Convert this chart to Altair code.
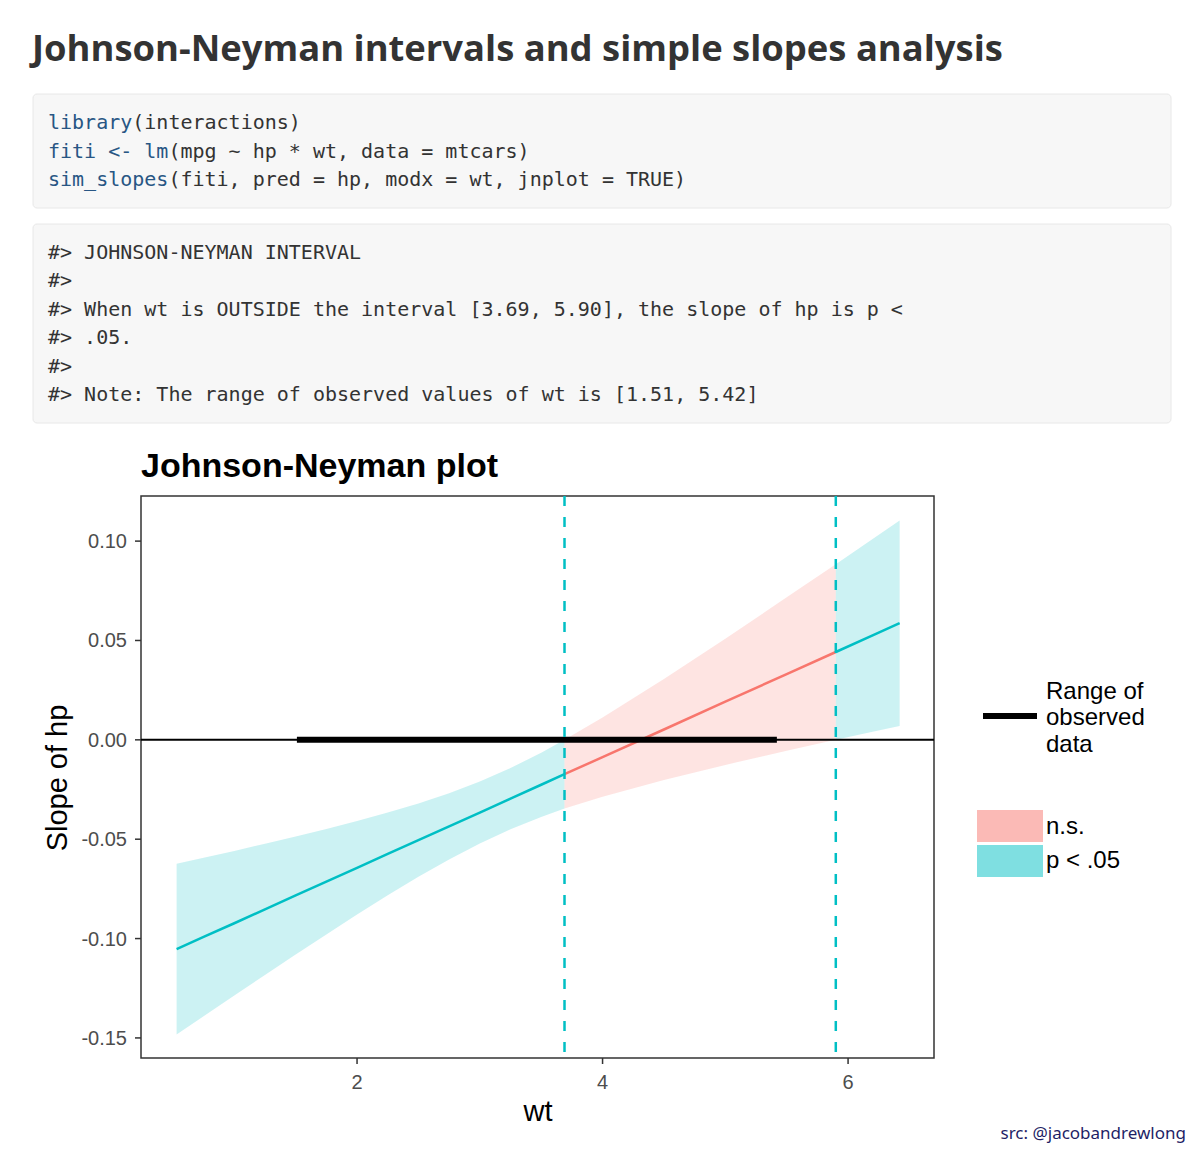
import altair as alt
import pandas as pd

# ---------------- data ----------------
wt_left = [0.53, 0.75, 1.0, 1.25, 1.5, 1.75, 2.0, 2.25, 2.5, 2.75, 3.0, 3.25, 3.5, 3.69]
est_left = [-0.1053, -0.0992, -0.0923, -0.0853, -0.0783, -0.0714, -0.0644, -0.0574,
            -0.0505, -0.0435, -0.0366, -0.0296, -0.0226, -0.0173]
lo_left = [-0.1483, -0.1391, -0.1287, -0.1183, -0.1080, -0.0979, -0.0879, -0.0782,
           -0.0689, -0.0602, -0.0522, -0.0450, -0.0388, -0.0346]
hi_left = [-0.0624, -0.0593, -0.0559, -0.0523, -0.0486, -0.0449, -0.0409, -0.0366,
           -0.0320, -0.0269, -0.0210, -0.0142, -0.0065, 0.0000]

wt_mid = [3.69, 4.0, 4.5, 5.0, 5.5, 5.90]
est_mid = [-0.0173, -0.0087, 0.0052, 0.0192, 0.0331, 0.0442]
lo_mid = [-0.0346, -0.0286, -0.0202, -0.0126, -0.0055, 0.0000]
hi_mid = [0.0000, 0.0112, 0.0306, 0.0509, 0.0717, 0.0884]

wt_right = [5.90, 6.2, 6.42]
est_right = [0.0442, 0.0526, 0.0587]
lo_right = [0.0000, 0.0041, 0.0070]
hi_right = [0.0884, 0.1011, 0.1104]

jn_bounds = [3.69, 5.90]
observed_range = [1.51, 5.42]

sig_labels = ["n.s.", "p < .05"]
sig_colors = ["#F8766D", "#00BFC4"]

x_ticks = [2, 4, 6]
x_tick_labels = ["2", "4", "6"]
y_ticks = [-0.15, -0.10, -0.05, 0.00, 0.05, 0.10]
y_tick_labels = ["-0.15", "-0.10", "-0.05", "0.00", "0.05", "0.10"]

page_title = "Johnson-Neyman intervals and simple slopes analysis"
plot_title = "Johnson-Neyman plot"
x_title = "wt"
y_title = "Slope of hp"
legend_range_lines = ["Range of", "observed", "data"]
source_note = "src: @jacobandrewlong"

# code block 1: (line, column, text, is_function)
code_segments = [
    (0, 0, "library", True), (0, 7, "(interactions)", False),
    (1, 0, "fiti <- lm", True), (1, 10, "(mpg ~ hp * wt, data = mtcars)", False),
    (2, 0, "sim_slopes", True), (2, 10, "(fiti, pred = hp, modx = wt, jnplot = TRUE)", False),
]
output_lines = [
    "#> JOHNSON-NEYMAN INTERVAL",
    "#>",
    "#> When wt is OUTSIDE the interval [3.69, 5.90], the slope of hp is p <",
    "#> .05.",
    "#>",
    "#> Note: The range of observed values of wt is [1.51, 5.42]",
]

# ---------------- tables ----------------
frames = []
for seg, sig, w, e, lo, hi in [
    ("a", "p < .05", wt_left, est_left, lo_left, hi_left),
    ("b", "n.s.", wt_mid, est_mid, lo_mid, hi_mid),
    ("c", "p < .05", wt_right, est_right, lo_right, hi_right),
]:
    frames.append(pd.DataFrame({"wt": w, "est": e, "lo": lo, "hi": hi, "seg": seg, "sig": sig}))
band = pd.concat(frames, ignore_index=True)

xt = pd.DataFrame({"v": x_ticks, "lab": x_tick_labels})
yt = pd.DataFrame({"v": y_ticks, "lab": y_tick_labels})
dummy = pd.DataFrame({"d": [0]})

# ---------------- layout ----------------
OX, OY = 141, 496          # plot-area origin on the page
W, H = 793, 562            # plot-area size
FONT = "Liberation Sans"

xscale = alt.Scale(domain=[0.24, 6.70], nice=False, zero=False)
yscale = alt.Scale(domain=[-0.1601, 0.1227], nice=False, zero=False)
cscale = alt.Scale(domain=sig_labels, range=sig_colors)

areas = alt.Chart(band).mark_area(opacity=0.2).encode(
    x=alt.X("wt:Q", scale=xscale, axis=None),
    y=alt.Y("lo:Q", scale=yscale, axis=None),
    y2="hi:Q",
    color=alt.Color("sig:N", scale=cscale, legend=None),
    detail="seg:N",
)
lines = alt.Chart(band).mark_line(strokeWidth=2.5).encode(
    x=alt.X("wt:Q", scale=xscale, axis=None),
    y=alt.Y("est:Q", scale=yscale, axis=None),
    color=alt.Color("sig:N", scale=cscale, legend=None),
    detail="seg:N",
)
zero = alt.Chart(pd.DataFrame({"y": [0.0]})).mark_rule(color="black", strokeWidth=2).encode(
    y=alt.Y("y:Q", scale=yscale, axis=None)
)
obs = alt.Chart(pd.DataFrame({"x1": [observed_range[0]], "x2": [observed_range[1]], "y": [0.0]})).mark_rule(
    color="black", strokeWidth=6
).encode(
    x=alt.X("x1:Q", scale=xscale, axis=None),
    x2="x2:Q",
    y=alt.Y("y:Q", scale=yscale, axis=None),
)
vlines = alt.Chart(pd.DataFrame({"jn": jn_bounds})).mark_rule(
    color="#00BFC4", strokeWidth=2.5, strokeDash=[10, 11]
).encode(x=alt.X("jn:Q", scale=xscale, axis=None))

# axes (ticks and labels placed through the scales)
x_tick_marks = alt.Chart(xt).mark_rule(color="#333333", strokeWidth=1.5).encode(
    x=alt.X("v:Q", scale=xscale, axis=None), y=alt.value(H), y2=alt.value(H + 6))
x_tick_text = alt.Chart(xt).mark_text(font=FONT, fontSize=20, color="#4d4d4d",
                                      align="center", baseline="alphabetic").encode(
    x=alt.X("v:Q", scale=xscale, axis=None), y=alt.value(1089 - OY), text="lab:N")
y_tick_marks = alt.Chart(yt).mark_rule(color="#333333", strokeWidth=1.5).encode(
    y=alt.Y("v:Q", scale=yscale, axis=None), x=alt.value(-6), x2=alt.value(0))
y_tick_text = alt.Chart(yt).mark_text(font=FONT, fontSize=20, color="#4d4d4d",
                                      align="right", baseline="alphabetic", dy=7).encode(
    y=alt.Y("v:Q", scale=yscale, axis=None), x=alt.value(127 - OX), text="lab:N")


def text_at(s, X, Y, size, color="black", font=FONT, weight="normal",
            align="left", baseline="alphabetic", angle=0):
    return alt.Chart(dummy).mark_text(
        text=s, fontSize=size, color=color, font=font, fontWeight=weight,
        align=align, baseline=baseline, angle=angle,
    ).encode(x=alt.value(X - OX), y=alt.value(Y - OY))


def rect_at(X1, Y1, X2, Y2, fill, stroke=None, radius=0, opacity=1.0):
    kw = dict(fill=fill, cornerRadius=radius, opacity=opacity)
    if stroke:
        kw.update(stroke=stroke, strokeWidth=1)
    return alt.Chart(dummy).mark_rect(**kw).encode(
        x=alt.value(X1 - OX), x2=alt.value(X2 - OX),
        y=alt.value(Y1 - OY), y2=alt.value(Y2 - OY),
    )


deco = []
# page title
deco.append(text_at(page_title, 32, 61, 36.4, color="#333333", font="Open Sans", weight="bold"))
# code blocks
deco.append(rect_at(33, 94, 1171, 208, "#f7f7f7", "#e8e8e8", 4))
deco.append(rect_at(33, 224, 1171, 423, "#f7f7f7", "#e8e8e8", 4))
CW = 12.04
code_y = [123, 151.5, 180]
for line, col, s, fn in code_segments:
    deco.append(text_at(s, 48 + col * CW, code_y[line], 20,
                        color="#285684" if fn else "#333333",
                        font="DejaVu Sans Mono", baseline="middle"))
out_y0, out_dy = 253, 28.4
for i, s in enumerate(output_lines):
    deco.append(text_at(s, 48, out_y0 + i * out_dy, 20, color="#333333",
                        font="DejaVu Sans Mono", baseline="middle"))
# plot title
deco.append(text_at(plot_title, 141, 477, 34, weight="bold"))
# axis titles
deco.append(text_at(x_title, 538, 1121, 29, align="center"))
deco.append(text_at(y_title, 67, 778, 29, align="center", angle=270))
# legend: range of observed data
deco.append(alt.Chart(dummy).mark_rule(color="black", strokeWidth=6).encode(
    x=alt.value(983 - OX), x2=alt.value(1037 - OX), y=alt.value(716 - OY)))
for i, s in enumerate(legend_range_lines):
    deco.append(text_at(s, 1046, 699 + i * 26.3, 24))
# legend: significance fills
deco.append(rect_at(977, 810, 1043, 842, sig_colors[0], opacity=0.5))
deco.append(rect_at(977, 845, 1043, 877, sig_colors[1], opacity=0.5))
deco.append(text_at(sig_labels[0], 1046, 834, 24))
deco.append(text_at(sig_labels[1], 1046, 868, 24))
# source note
deco.append(text_at(source_note, 1186, 1139, 17, color="#1f1f66", font="Noto Sans", align="right"))

chart = alt.layer(areas, lines, zero, obs, vlines,
                  x_tick_marks, x_tick_text, y_tick_marks, y_tick_text, *deco).properties(
    width=W, height=H,
    padding={"left": OX, "top": OY, "right": 1200 - OX - W, "bottom": 1153 - OY - H},
    autosize=alt.AutoSizeParams(type="none"),
    background="white",
).configure_view(stroke="#333333", strokeWidth=1.5)

chart.save("out.html", embed_options={"renderer": "svg", "actions": False})
